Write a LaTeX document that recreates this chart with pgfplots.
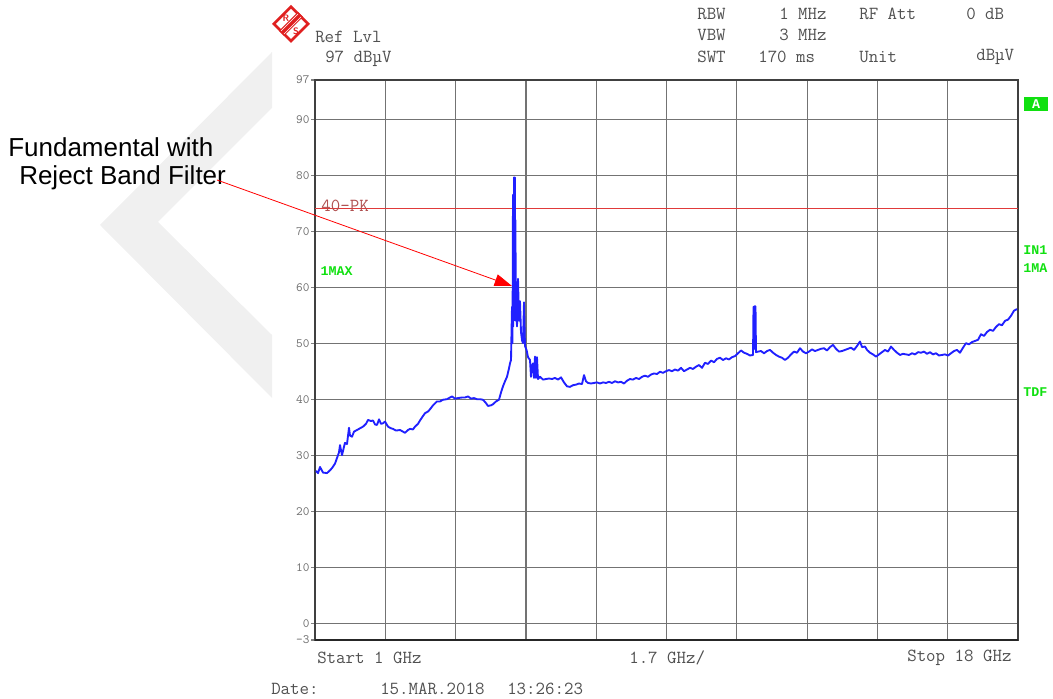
\documentclass[border=0pt]{standalone}
\usepackage{pgfplots}
\pgfplotsset{compat=1.18}
\usepackage{pgfplotstable}
\usepackage{fontspec}
\setmainfont{Liberation Sans}
\newfontfamily\limono{Liberation Mono}
\usetikzlibrary{arrows.meta}
\definecolor{trace}{HTML}{2020FF}
\definecolor{limred}{HTML}{E03A3A}
\definecolor{limtxt}{HTML}{B05050}
\definecolor{rsgreen}{HTML}{10E010}
\definecolor{hdr}{HTML}{505050}
\definecolor{rsred}{HTML}{E02020}
\pgfplotstableread{
f db
1.024 27.2
1.073 26.8
1.121 27.9
1.193 26.9
1.290 26.8
1.363 27.3
1.411 27.7
1.484 28.5
1.532 29.5
1.580 30.5
1.605 31.8
1.653 30.0
1.701 31.5
1.725 32.2
1.774 32.0
1.822 34.9
1.846 33.5
1.895 33.3
1.943 34.2
2.016 34.5
2.088 34.8
2.161 35.1
2.233 35.6
2.282 36.3
2.354 36.1
2.403 36.2
2.451 35.5
2.499 35.4
2.548 36.4
2.596 35.6
2.644 35.7
2.693 36.0
2.765 35.1
2.838 34.8
2.886 34.7
2.959 34.4
3.055 34.5
3.128 34.2
3.176 34.0
3.249 34.5
3.297 34.7
3.370 34.6
3.418 35.1
3.491 35.6
3.539 36.2
3.612 37.0
3.660 37.5
3.733 37.8
3.781 38.2
3.853 38.9
3.950 39.6
4.023 39.6
4.095 39.9
4.192 40.0
4.265 40.3
4.313 40.5
4.385 40.1
4.458 40.2
4.555 40.3
4.627 40.3
4.700 40.5
4.772 40.1
4.845 40.2
4.917 40.0
4.990 40.0
5.063 39.9
5.135 39.3
5.183 38.8
5.256 38.9
5.304 39.1
5.377 39.6
5.449 39.9
5.498 41.2
5.546 42.3
5.595 43.2
5.643 44.0
5.691 45.5
5.715 46.4
5.740 47.0
5.752 52.0
5.764 56.5
5.776 50.0
5.788 76.5
5.794 53.0
5.800 75.0
5.806 54.0
5.812 79.6
5.818 55.0
5.824 79.6
5.830 56.0
5.836 79.6
5.842 55.0
5.848 72.0
5.854 54.0
5.861 61.0
5.873 55.0
5.885 53.0
5.909 61.5
5.933 54.0
5.957 57.5
5.981 52.0
6.006 50.5
6.030 50.0
6.054 57.3
6.078 49.5
6.115 48.8
6.151 47.5
6.199 47.0
6.223 44.0
6.248 46.0
6.272 46.4
6.296 43.8
6.320 47.6
6.344 43.8
6.368 47.5
6.393 43.6
6.441 44.0
6.513 43.5
6.586 43.6
6.659 43.7
6.731 43.6
6.804 43.8
6.876 43.5
6.949 43.9
7.021 43.0
7.094 42.3
7.166 42.2
7.239 42.5
7.312 42.6
7.384 42.8
7.457 42.7
7.505 44.3
7.553 43.2
7.602 42.9
7.674 42.8
7.747 42.9
7.819 43.0
7.892 42.8
7.964 43.0
8.037 42.9
8.110 43.1
8.182 42.9
8.255 43.2
8.327 43.0
8.400 43.1
8.472 42.8
8.545 43.3
8.617 43.6
8.690 43.5
8.762 43.8
8.835 43.6
8.908 44.0
8.980 44.2
9.053 44.0
9.125 44.4
9.198 44.6
9.270 44.5
9.343 44.9
9.415 44.7
9.488 45.0
9.560 45.2
9.633 45.0
9.706 45.3
9.778 45.1
9.851 45.6
9.923 45.0
9.996 45.3
10.068 45.6
10.141 45.4
10.213 45.8
10.286 46.1
10.358 45.6
10.431 46.5
10.504 46.3
10.576 46.9
10.649 46.6
10.721 47.2
10.794 47.4
10.866 47.0
10.939 47.3
11.011 47.1
11.084 47.5
11.156 47.7
11.229 48.2
11.302 48.7
11.374 48.3
11.447 48.1
11.519 47.8
11.592 47.9
11.604 56.5
11.610 49.0
11.616 56.5
11.622 49.0
11.628 56.6
11.634 49.0
11.640 56.6
11.646 49.0
11.652 56.6
11.664 48.4
11.713 48.5
11.785 48.6
11.858 48.2
11.931 48.6
12.003 48.8
12.076 48.3
12.148 47.9
12.221 47.6
12.293 47.4
12.366 47.0
12.438 47.4
12.511 48.0
12.583 48.5
12.656 48.3
12.729 49.1
12.801 48.5
12.874 48.2
12.946 48.5
13.019 48.9
13.091 48.6
13.164 48.8
13.236 49.0
13.309 49.1
13.381 48.7
13.454 49.3
13.526 49.7
13.599 49.0
13.671 48.5
13.744 48.6
13.816 48.8
13.889 49.0
13.962 49.2
14.034 48.8
14.107 49.5
14.179 50.3
14.228 49.3
14.300 49.4
14.349 48.8
14.421 48.3
14.494 48.0
14.566 47.6
14.639 48.0
14.711 48.4
14.784 48.8
14.856 48.5
14.929 49.4
15.002 48.8
15.074 48.3
15.147 47.9
15.219 48.1
15.292 48.0
15.364 47.9
15.437 48.2
15.509 48.0
15.582 48.4
15.654 48.3
15.727 48.5
15.799 48.1
15.872 48.4
15.944 48.0
16.017 48.2
16.090 47.8
16.162 47.9
16.235 48.0
16.307 47.8
16.380 48.2
16.452 48.6
16.525 48.8
16.597 48.3
16.670 49.2
16.742 50.0
16.815 49.8
16.888 50.2
16.960 50.4
17.033 50.6
17.105 51.6
17.178 51.3
17.250 52.0
17.323 52.4
17.395 52.2
17.468 52.9
17.540 53.4
17.613 53.2
17.686 54.0
17.758 54.2
17.831 54.9
17.903 55.8
17.976 56.1
}\trace
\begin{document}
\begin{tikzpicture}[x=0.75pt,y=0.75pt]
\useasboundingbox (0,0) rectangle (1053,699);
\begin{scope}[shift={(0,699)}, yscale=-1]
% faint watermark chevron
\fill[black!6] (272,52) -- (100,225) -- (272,398) -- (272,335) -- (158,222) -- (272,108) -- cycle;
\end{scope}
\begin{axis}[
  at={(236.25pt,44.25pt)}, anchor=south west,
  scale only axis, width=527.25pt, height=420pt,
  xmin=1, xmax=18, ymin=-3, ymax=97,
  xtick={1,2.7,4.4,6.1,7.8,9.5,11.2,12.9,14.6,16.3,18},
  xticklabels={},
  major x tick style={draw=none},
  ytick={-3,0,10,20,30,40,50,60,70,80,90,97},
  yticklabels={-3,0,10,20,30,40,50,60,70,80,90,97},
  ytick pos=left, tick align=outside,
  major tick length=3pt,
  major y tick style={black!50, line width=0.8pt},
  /pgf/number format/assume math mode=true,
  yticklabel style={font=\ttfamily\fontsize{9.5}{11}\selectfont, text=black!55, inner sep=1pt},
  grid=major,
  major grid style={black!55, line width=0.9pt},
  axis line style={black!75, line width=1.4pt},
  clip=true,
]
\addplot[limred, line width=0.6pt, forget plot] coordinates {(1,74.1) (18,74.1)};
\addplot[trace, line width=1.4pt, line join=round] table[x=f, y=db] {\trace};
\node[anchor=west, font=\ttfamily\fontsize{13.8}{15}\selectfont, text=limtxt, inner sep=0pt] at (axis cs:1.15,74.5) {40-PK};
\node[anchor=west, font=\limono\bfseries\fontsize{10}{12}\selectfont, text=rsgreen, inner sep=0pt] at (axis cs:1.13,62.8) {1MAX};
\end{axis}
\begin{scope}[shift={(0,699)}, yscale=-1]
\draw[black!85, line width=2.2pt] (315,640) -- (1018,640);
% header
\begin{scope}[every node/.style={anchor=west, inner sep=0pt, font=\ttfamily\fontsize{13.8}{15}\selectfont, text=hdr}]
\node at (315,37) {Ref Lvl};
\node at (325,59) {97 dBµV};
\node at (697,14) {RBW};
\node at (779,14) {1 MHz};
\node at (859,14) {RF Att};
\node at (966,14) {0 dB};
\node at (697,35) {VBW};
\node at (779,35) {3 MHz};
\node at (697,57) {SWT};
\node at (758,57) {170 ms};
\node at (859,57) {Unit};
\node at (976,57) {dBµV};
\node at (317,658) {Start 1 GHz};
\node at (629,658) {1.7 GHz/};
\node at (907,658) {Stop 18 GHz};
\node at (271,689) {Date:};
\node at (380,689) {15.MAR.2018};
\node at (507,689) {13:26:23};
\end{scope}
% R&S logo
\fill[rsred] (291,5) -- (310,24) -- (291,43) -- (272,24) -- cycle;
\fill[white] (291,9) -- (306,24) -- (291,39) -- (276,24) -- cycle;
\fill[rsred] (279,31) -- (298,12) -- (303,17) -- (284,36) -- cycle;
\draw[white, line width=0.5pt] (281,31) -- (298,14);
\draw[white, line width=0.5pt] (284,34) -- (301,17);
\node[font=\sffamily\bfseries\fontsize{7}{7}\selectfont, text=rsred, inner sep=0pt] at (286,18) {R};
\node[font=\sffamily\bfseries\fontsize{7}{7}\selectfont, text=rsred, inner sep=0pt] at (296,31) {S};
% right side green labels
\node[fill=rsgreen, text=white, font=\limono\bfseries\fontsize{10}{12}\selectfont, minimum width=18pt, minimum height=10.5pt, inner sep=0pt] at (1036,104) {A};
\begin{scope}[every node/.style={anchor=west, inner sep=0pt, font=\limono\bfseries\fontsize{10}{12}\selectfont, text=rsgreen}]
\node at (1023,250) {IN1};
\node at (1023,268) {1MA};
\node at (1023,392) {TDF};
\end{scope}
% annotation
\node[anchor=west, inner sep=0pt, font=\fontsize{19.5}{22}\selectfont] at (8,147) {Fundamental with};
\node[anchor=west, inner sep=0pt, font=\fontsize{19.5}{22}\selectfont] at (19,178) {Reject Band Filter};
\draw[red, line width=0.6pt, -{Triangle[length=13pt,width=9pt]}] (217,180) -- (512,286);
\end{scope}
\end{tikzpicture}
\end{document}
